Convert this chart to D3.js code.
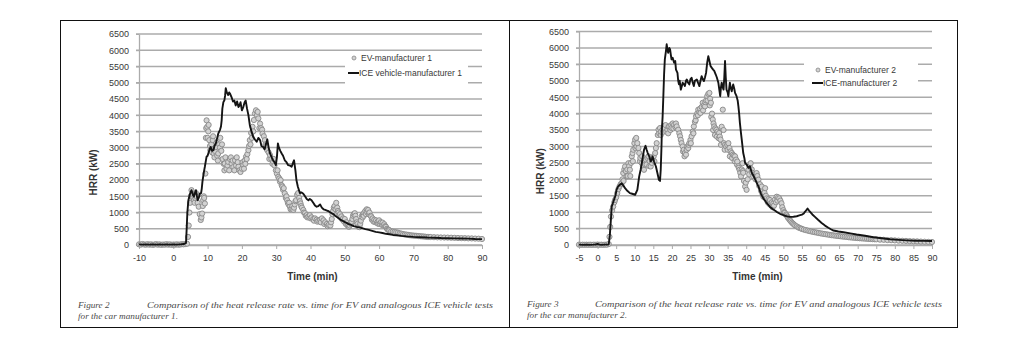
<!DOCTYPE html>
<html>
<head>
<meta charset="utf-8">
<script src="https://cdn.jsdelivr.net/npm/d3@7"></script>
<style>
  html, body { margin: 0; padding: 0; background: #fff; }
  svg { display: block; }
</style>
</head>
<body>
<svg id="fig" width="1018" height="349"></svg>
<script>
// Heat release rate (kW) against time (min) — [time, HRR] pairs.
const ev1 = [
  [-10,20],[-9.5,10],[-9,30],[-8.5,15],[-8,10],[-7.5,25],[-7,10],[-6.5,20],[-6,5],[-5.5,15],
  [-5,25],[-4.5,10],[-4,20],[-3.5,5],[-3,15],[-2.5,10],[-2,25],[-1.5,10],[-1,20],[-0.5,5],
  [0,15],[0.5,10],[1,20],[1.5,10],[2,15],[2.5,25],[3,20],[3.5,30],[4,40],[4.3,250],
  [4.5,600],[4.7,1000],[4.9,1300],[5.1,1500],[5.3,1690],[5.6,1550],[5.8,1450],[6.0,1380],[6.2,1300],[6.4,1450],
  [6.6,1600],[6.8,1490],[7.1,1300],[7.4,1180],[7.7,950],[8.0,770],[8.2,850],[8.4,970],[8.6,1200],[8.7,1380],
  [8.9,1500],[9.0,1450],[9.2,1280],[9.35,2200],[9.5,3300],[9.6,3600],[9.7,3840],[9.9,3640],[10.0,3300],[10.2,3500],
  [10.3,3700],[10.5,3230],[10.7,3050],[10.8,2920],[11.1,3100],[11.3,2850],[11.5,3230],[11.6,3350],[11.8,2820],[12.0,2700],
  [12.1,2900],[12.4,3020],[12.6,3150],[12.8,2750],[13.0,2600],[13.1,2820],[13.4,3100],[13.6,3000],[13.7,3300],[14.0,2900],
  [14.2,3100],[14.4,2650],[14.7,2500],[14.9,2300],[15.0,2510],[15.2,2700],[15.5,2350],[15.8,2450],[16.0,2560],[16.3,2300],
  [16.5,2650],[16.8,2700],[17.0,2510],[17.3,2600],[17.5,2400],[17.8,2300],[18.0,2610],[18.3,2450],[18.5,2700],[18.8,2550],
  [19.0,2410],[19.3,2300],[19.6,2250],[20.0,2350],[20.2,2550],[20.4,2460],[20.6,2350],[20.8,2600],[21.0,2500],[21.2,2720],
  [21.4,2650],[21.6,2800],[21.9,2920],[22.1,3050],[22.3,3230],[22.5,3100],[22.7,3450],[22.9,3300],[23.1,3640],[23.3,3500],
  [23.5,3850],[23.8,4050],[24.1,4150],[24.4,4000],[24.6,4100],[24.8,3900],[25.1,3600],[25.3,3740],[25.6,3600],[25.9,3550],
  [26.0,3430],[26.4,3350],[26.7,3230],[26.9,3100],[27.0,3050],[27.4,2920],[27.8,2850],[28.0,2650],[28.2,2770],[28.6,2650],
  [28.9,2500],[29.1,2560],[29.3,2650],[29.5,2450],[29.9,2300],[30.2,2200],[30.4,2300],[30.6,2100],[30.9,2050],[31.1,1950],
  [31.3,2000],[31.6,1840],[31.8,1800],[32.0,1700],[32.2,1750],[32.5,1590],[32.8,1450],[33.0,1500],[33.2,1380],[33.4,1300],
  [33.6,1250],[33.8,1300],[34.0,1180],[34.2,1100],[34.5,1120],[34.7,1200],[35.0,1080],[35.2,1150],[35.4,1250],[35.6,1350],
  [35.8,1380],[36.1,1550],[36.4,1600],[36.7,1450],[36.9,1350],[37.1,1280],[37.3,1200],[37.5,1150],[37.9,1080],[38.1,1000],
  [38.4,980],[38.6,900],[38.9,920],[39.1,850],[39.4,880],[39.8,920],[40.0,820],[40.3,850],[40.8,800],[41.0,750],
  [41.3,820],[41.8,780],[42.0,720],[42.3,750],[42.8,770],[43.0,700],[43.3,820],[43.8,760],[44.0,650],[44.3,700],
  [44.8,650],[45.0,580],[45.3,620],[45.8,600],[46.0,700],[46.2,800],[46.4,950],[46.6,1050],[46.8,1150],[47.0,1200],
  [47.3,1100],[47.5,1300],[47.8,1150],[48.0,1050],[48.2,1000],[48.4,900],[48.6,950],[49.0,880],[49.3,780],[49.5,820],
  [49.8,720],[50.0,800],[50.3,650],[50.5,700],[50.8,600],[51.0,620],[51.2,560],[51.4,600],[51.8,650],[52.0,720],
  [52.2,800],[52.4,900],[52.6,950],[52.9,980],[53.1,900],[53.3,800],[53.5,700],[53.7,650],[54.0,560],[54.3,550],
  [54.5,650],[54.7,750],[55.0,900],[55.2,850],[55.3,950],[55.5,900],[55.7,1000],[56.0,1050],[56.2,950],[56.4,1100],
  [56.6,1000],[56.8,1080],[57.0,950],[57.2,1000],[57.5,900],[57.7,880],[57.9,780],[58.1,820],[58.4,720],[58.6,780],
  [58.9,700],[59.1,760],[59.4,680],[59.6,720],[59.8,650],[60.0,760],[60.2,650],[60.5,700],[60.8,620],[61.0,690],
  [61.3,600],[61.5,640],[61.8,580],[62.0,560],[62.3,500],[62.5,480],[62.8,470],[63.0,450],[63.5,420],[64.0,410],
  [64.5,400],[65.0,390],[65.5,380],[66,360],[66.5,350],[67,335],[67.5,325],[68,320],[68.5,310],[69,300],
  [69.5,295],[70,290],[70.5,285],[71,282],[71.5,275],[72,270],[72.5,265],[73,262],[73.5,255],[74,250],
  [74.5,248],[75,246],[76,240],[77,236],[78,232],[79,230],[80,228],[81,224],[82,220],[83,216],
  [84,212],[85,210],[86,205],[87,203],[88,198],[89,195],[90,185]
];

const ice1 = [
  [-10,20],[-9,10],[-8,15],[-7,10],[-6,20],[-5,10],[-4,15],[-3,10],[-2,15],[-1,10],
  [0,15],[1,10],[2,20],[3,30],[3.7,60],[3.9,500],[4.1,1000],[4.4,1380],[4.8,1550],[5.3,1690],
  [5.7,1550],[6.0,1490],[6.3,1600],[6.6,1690],[6.9,1500],[7.1,1380],[7.4,1450],[7.8,1590],[8.1,1600],[8.3,1740],
  [8.5,1950],[8.7,2100],[9.0,2300],[9.2,2410],[9.5,2600],[9.7,2720],[10.0,2750],[10.2,2820],[10.6,2950],[10.9,3020],
  [11.3,2900],[11.7,2920],[12.0,3050],[12.4,3130],[12.8,3300],[13.1,3430],[13.4,3500],[13.6,3540],[13.9,3650],[14.1,3840],
  [14.3,4200],[14.6,4400],[14.9,4460],[15.1,4600],[15.3,4830],[15.6,4700],[16.0,4620],[16.3,4700],[16.6,4650],[17.0,4550],
  [17.4,4420],[17.8,4450],[18.2,4300],[18.6,4420],[19.0,4250],[19.3,4300],[19.6,4400],[20.0,4150],[20.4,4250],[20.8,4400],
  [21.1,4450],[21.5,4200],[21.9,4000],[22.3,3700],[22.8,3500],[23.3,3330],[23.8,3250],[24.3,3180],[24.8,3300],[25.3,3230],
  [25.7,3050],[26.2,3020],[26.6,2950],[27.0,3100],[27.4,3250],[27.8,3000],[28.2,2820],[28.7,2700],[29.1,2610],[29.5,2550],
  [29.9,2460],[30.2,2700],[30.5,3130],[30.8,3000],[31.2,2900],[31.6,2820],[32.0,2750],[32.5,2610],[33.0,2550],[33.5,2460],
  [34.0,2450],[34.5,2410],[35.0,2560],[35.2,2610],[35.6,2300],[35.9,2000],[36.3,1800],[36.9,1600],[37.4,1620],[37.9,1580],
  [38.4,1500],[38.9,1420],[39.4,1380],[39.8,1420],[40.3,1380],[40.8,1300],[41.3,1220],[41.8,1180],[42.3,1200],[42.8,1250],
  [43.3,1150],[43.8,1100],[44.3,1080],[44.8,1060],[45.3,1040],[45.8,1000],[46.5,960],[47.2,900],[48.0,840],[48.7,780],
  [49.4,740],[50.2,700],[51.0,650],[51.8,620],[52.6,580],[53.4,560],[54.2,545],[55.0,520],[56.0,490],[57.0,465],
  [58.0,435],[59.0,405],[60.0,390],[61.0,370],[62.0,345],[63.0,330],[64.0,310],[65.0,300],[66.5,280],[68,265],
  [70,250],[72,240],[74,230],[76,225],[78,215],[80,210],[82,205],[84,200],[86,195],[88,185],[90,180]
];

const ev2 = [
  [-5,10],[-4.5,5],[-4,10],[-3.5,5],[-3,10],[-2.5,5],[-2,10],[-1.5,5],[-1,10],[-0.5,5],
  [0,15],[0.5,5],[1,10],[1.5,5],[2,10],[2.5,10],[3.0,30],[3.2,250],[3.4,550],[3.6,865],
  [3.9,1050],[4.2,1170],[4.5,1300],[4.7,1370],[5.0,1450],[5.3,1580],[5.6,1700],[5.9,1780],[6.2,1850],[6.5,1880],
  [6.7,2000],[6.9,2190],[7.0,1950],[7.2,2300],[7.4,2390],[7.6,2250],[7.8,2090],[8.0,2300],[8.1,2100],[8.3,2490],
  [8.5,2400],[8.7,2290],[8.8,2100],[9.0,2500],[9.2,2700],[9.4,2800],[9.5,2550],[9.6,2900],[9.9,3100],[10.1,3210],
  [10.2,2950],[10.4,3260],[10.5,3000],[10.7,3100],[11.0,2950],[11.2,2800],[11.4,2550],[11.5,2650],[11.9,2490],[12.0,2700],
  [12.2,2400],[12.5,2290],[12.6,2550],[12.8,2450],[13.0,2600],[13.2,2450],[13.4,2650],[13.7,2700],[13.9,2400],[14.0,2550],
  [14.3,2390],[14.6,2500],[14.8,2600],[15.1,2700],[15.3,2550],[15.5,2800],[15.7,2950],[15.9,3100],[16.2,3350],[16.4,3510],
  [16.6,3400],[16.8,3560],[17.0,3350],[17.1,3450],[17.5,3510],[17.7,3450],[17.8,3600],[18.1,3560],[18.3,3650],[18.5,3450],
  [18.8,3510],[19.0,3400],[19.1,3600],[19.3,3610],[19.6,3500],[19.8,3650],[19.9,3560],[20.2,3700],[20.4,3550],[20.6,3660],
  [21.0,3580],[21.1,3700],[21.3,3610],[21.7,3510],[22.0,3400],[22.2,3310],[22.4,3200],[22.6,3100],[22.9,3000],[23.0,2850],
  [23.2,2900],[23.4,2700],[23.5,2800],[23.8,2750],[24.0,2900],[24.2,3000],[24.4,2950],[24.5,3050],[24.7,3100],[25.0,3200],
  [25.1,3100],[25.3,3310],[25.6,3450],[25.8,3400],[25.9,3610],[26.2,3750],[26.4,3800],[26.5,3920],[26.8,4000],[27.0,3950],
  [27.1,4120],[27.4,4050],[27.6,4150],[27.7,4020],[28.0,4200],[28.3,4330],[28.4,4100],[28.6,4250],[28.9,4220],[29.0,4350],
  [29.2,4400],[29.5,4530],[29.6,4400],[29.8,4600],[30.1,4630],[30.2,4250],[30.3,4450],[30.5,4330],[30.6,3900],[30.8,4000],
  [31.0,3820],[31.1,3500],[31.2,3700],[31.4,3610],[31.6,3350],[31.7,3550],[32.0,3510],[32.1,3300],[32.3,3450],[32.6,3250],
  [32.7,3410],[32.9,3300],[33.1,3210],[33.2,3050],[33.4,3600],[33.7,4120],[33.9,3500],[34.0,3100],[34.2,2900],[34.3,3050],
  [34.6,3000],[34.9,3050],[35.0,2900],[35.2,3100],[35.5,2950],[35.6,2700],[35.8,2850],[36.1,2800],[36.2,2650],[36.4,2750],
  [36.7,2720],[36.9,2550],[37.0,2700],[37.3,2600],[37.5,2450],[37.6,2540],[37.9,2400],[38.0,2350],[38.2,2290],[38.4,2200],
  [38.6,2090],[38.8,2300],[39.0,2490],[39.1,2250],[39.2,2200],[39.4,1950],[39.7,1780],[39.9,1900],[40.1,1680],[40.4,2000],
  [40.6,2290],[40.8,2150],[40.9,2400],[41.2,2490],[41.5,2300],[41.6,2200],[41.9,2090],[42.3,2150],[42.5,2000],[42.8,2190],
  [43.0,2100],[43.3,1990],[43.5,1800],[43.7,1850],[44.0,1650],[44.2,1780],[44.4,1550],[44.6,1470],[44.9,1600],[45.1,1730],
  [45.3,1500],[45.5,1420],[45.8,1300],[46.0,1400],[46.2,1250],[46.4,1370],[46.7,1200],[46.9,1300],[47.1,1150],[47.3,1270],
  [47.5,1200],[47.7,1380],[48.0,1300],[48.2,1470],[48.4,1350],[48.6,1450],[48.9,1420],[49.2,1350],[49.5,1270],[49.7,1150],
  [50.0,1060],[50.2,1000],[50.4,980],[50.7,930],[50.9,905],[51.1,860],[51.3,820],[51.6,780],[51.8,750],[52.0,720],
  [52.3,680],[52.6,650],[52.9,620],[53.2,590],[53.6,566],[54.0,540],[54.3,520],[54.7,505],[55.0,490],[55.5,470],
  [56,455],[56.5,440],[57,425],[57.5,412],[58,400],[58.5,388],[59,378],[59.5,366],[60,355],[60.5,345],
  [61,335],[61.5,326],[62,318],[62.5,308],[63,298],[63.5,292],[64,285],[64.5,277],[65,270],[65.5,264],
  [66,258],[66.5,252],[67,246],[67.5,238],[68,232],[68.5,227],[69,222],[69.5,216],[70,212],[70.5,206],
  [71,202],[71.5,198],[72,195],[72.5,190],[73,185],[73.5,182],[74,178],[74.5,175],[75,172],[76,163],
  [77,158],[78,150],[79,146],[80,140],[81,133],[82,128],[83,124],[84,118],[85,113],[86,110],
  [87,104],[88,100],[89,96],[90,92]
];

const ice2 = [
  [-5,10],[-4,5],[-3,10],[-2,5],[-1,10],[-0.5,15],[0,30],[0.5,10],[1,5],[2,10],
  [3,15],[3.3,300],[3.6,800],[3.8,1170],[4.2,1300],[4.5,1400],[4.8,1500],[5.1,1680],[5.5,1780],[5.9,1830],
  [6.5,1880],[7.0,1800],[7.4,1730],[8.0,1650],[8.7,1580],[9.3,1560],[10.1,1530],[10.7,1680],[11.2,2090],[11.6,2300],
  [11.9,2490],[12.2,2700],[12.5,2900],[12.9,3020],[13.2,2900],[13.5,2800],[13.9,2700],[14.3,2540],[14.6,2600],[14.8,2700],
  [15.2,2540],[15.7,2390],[16.1,2190],[16.5,1985],[16.8,1950],[17.0,2300],[17.2,3000],[17.3,3510],[17.5,3900],[17.7,4530],
  [17.9,5200],[18.1,5650],[18.4,5900],[18.6,6110],[18.8,5950],[19.0,5850],[19.3,6000],[19.5,5960],[19.7,5800],[19.9,5650],
  [20.2,5700],[20.6,5550],[20.9,5600],[21.1,5340],[21.5,5240],[21.7,5000],[21.9,4890],[22.1,5000],[22.4,4730],[22.7,4850],
  [22.9,4940],[23.2,4900],[23.5,4840],[23.8,5000],[24.0,5040],[24.3,4950],[24.7,4890],[25.0,5050],[25.3,5090],[25.6,4950],
  [25.9,4840],[26.2,5000],[26.7,5040],[27.0,4950],[27.4,4840],[27.7,5000],[28.0,5140],[28.3,5050],[28.6,4990],[28.9,5100],
  [29.2,5240],[29.5,5550],[29.8,5750],[30.1,5600],[30.4,5450],[30.7,5400],[31.1,5340],[31.4,5300],[31.8,5190],[32.1,5100],
  [32.5,4940],[33.0,4530],[33.2,4800],[33.4,4940],[33.7,4800],[33.9,4730],[34.1,5100],[34.3,5600],[34.5,5100],[34.7,4730],
  [35.0,4650],[35.2,4530],[35.4,4750],[35.6,4940],[35.8,4800],[36.1,4680],[36.3,4800],[36.5,4890],[36.8,4750],[37.0,4630],
  [37.4,4530],[37.7,4400],[37.9,4220],[38.1,4000],[38.3,3720],[38.6,3400],[38.8,3210],[39.0,3000],[39.2,2800],[39.5,2650],
  [39.7,2500],[40.1,2450],[40.6,2350],[41.0,2400],[41.5,2200],[42.0,2100],[42.4,2000],[42.8,1900],[43.3,1780],[44.0,1550],
  [44.6,1420],[45.5,1280],[46.4,1160],[47.3,1080],[48.2,1010],[49.1,950],[50.0,906],[51.0,870],[51.8,855],[52.7,860],
  [53.6,875],[54.3,900],[55.0,925],[55.5,960],[55.8,1010],[56.2,1060],[56.5,1110],[56.9,1050],[57.2,1010],[57.8,930],
  [58.5,855],[59.4,760],[60.3,670],[61.2,590],[62.1,525],[62.8,480],[63.5,440],[64.8,410],[66.2,390],[68,355],
  [69.7,320],[72,280],[74.2,237],[76.5,205],[78.7,175],[81,155],[83.2,140],[85.5,130],[87.7,125],[90,120]
];

const hrrTicks = [0, 500, 1000, 1500, 2000, 2500, 3000, 3500, 4000, 4500, 5000, 5500, 6000, 6500];
const timeTicks1 = [-10, 0, 10, 20, 30, 40, 50, 60, 70, 80, 90];
const timeTicks2 = [-5, 0, 5, 10, 15, 20, 25, 30, 35, 40, 45, 50, 55, 60, 65, 70, 75, 80, 85, 90];

const panels = [
  {
    frame: [60.5, 20.5, 509.5, 327.5],
    xDomain: [-10, 90], xRange: [139, 482], yRange: [245, 34],
    xTicks: timeTicks1, ev: ev1, ice: ice1,
    evName: "EV-manufacturer 1", iceName: "ICE vehicle-manufacturer 1",
    legend: { box: [345, 53, 468, 89], x: 348, y1: 58, y2: 73 },
    yTitleX: 93, xTitleY: 280,
    capX: 78, capTextX: 147, capW: 346, capY1: 308, capY2: 319,
    figLabel: "Figure 2",
    cap1: "Comparison of the heat release rate vs. time for EV and analogous ICE vehicle tests",
    cap2: "for the car manufacturer 1."
  },
  {
    frame: [509.5, 20.5, 957.5, 327.5],
    xDomain: [-5, 90], xRange: [579, 932], yRange: [245, 31.5],
    xTicks: timeTicks2, ev: ev2, ice: ice2,
    evName: "EV-manufacturer 2", iceName: "ICE-manufacturer 2",
    legend: { box: [804, 54, 918, 91], x: 812, y1: 70, y2: 83 },
    yTitleX: 540, xTitleY: 280,
    capX: 527, capTextX: 595, capW: 347, capY1: 307, capY2: 318,
    figLabel: "Figure 3",
    cap1: "Comparison of the heat release rate vs. time for EV and analogous ICE vehicle tests",
    cap2: "for the car manufacturer 2."
  }
];

const svg = d3.select("#fig");
svg.append("rect").attr("width", 1018).attr("height", 349).attr("fill", "#fff");

const tickFont = "'Liberation Sans', Arial, sans-serif";

function drawPanel(p) {
  const g = svg.append("g");
  const x = d3.scaleLinear().domain(p.xDomain).range(p.xRange);
  const y = d3.scaleLinear().domain([0, 6500]).range(p.yRange);

  // frame
  g.append("rect")
    .attr("x", p.frame[0]).attr("y", p.frame[1])
    .attr("width", p.frame[2] - p.frame[0]).attr("height", p.frame[3] - p.frame[1])
    .attr("fill", "none").attr("stroke", "#111").attr("stroke-width", 1);

  // horizontal gridlines
  g.append("g").selectAll("line").data(hrrTicks).join("line")
    .attr("x1", p.xRange[0] - 3).attr("x2", p.xRange[1])
    .attr("y1", d => y(d)).attr("y2", d => y(d))
    .attr("stroke", "#ababab").attr("stroke-width", 1.5);

  // y axis
  const ya = g.append("g").attr("transform", `translate(${p.xRange[0]},0)`)
    .call(d3.axisLeft(y).tickValues(hrrTicks).tickSize(3).tickSizeOuter(0).tickPadding(7)
      .tickFormat(d => String(d)));
  ya.select(".domain").attr("stroke", "#ababab").attr("stroke-width", 1.3);
  ya.selectAll(".tick line").attr("stroke", "#ababab");
  ya.selectAll("text").attr("font-family", tickFont).attr("font-size", 9).attr("fill", "#383838");

  // x axis
  const xa = g.append("g").attr("transform", `translate(0,${y(0)})`)
    .call(d3.axisBottom(x).tickValues(p.xTicks).tickSize(4).tickSizeOuter(0).tickPadding(6)
      .tickFormat(d => String(d)));
  xa.select(".domain").attr("stroke", "#ababab").attr("stroke-width", 1.5);
  xa.selectAll(".tick line").attr("stroke", "#ababab");
  xa.selectAll("text").attr("font-family", tickFont).attr("font-size", 9).attr("fill", "#383838");

  // axis titles
  g.append("text").attr("x", (p.xRange[0] + p.xRange[1]) / 2 + 2).attr("y", p.xTitleY)
    .attr("text-anchor", "middle").attr("font-family", tickFont).attr("font-weight", "bold")
    .attr("font-size", 10).attr("fill", "#333").text("Time (min)");
  g.append("text")
    .attr("transform", `translate(${p.yTitleX},${(y(0) + y(6500)) / 2 + 33}) rotate(-90)`)
    .attr("text-anchor", "middle").attr("dy", "0.35em").attr("font-family", tickFont)
    .attr("font-weight", "bold").attr("font-size", 10).attr("fill", "#333").text("HRR (kW)");

  // EV series: open grey markers
  g.append("g").selectAll("circle").data(p.ev).join("circle")
    .attr("cx", d => x(d[0])).attr("cy", d => y(d[1])).attr("r", 2.6)
    .attr("fill", "#d2d2d2").attr("stroke", "#888").attr("stroke-width", 0.9);

  // ICE series: black line
  g.append("path").datum(p.ice)
    .attr("d", d3.line().x(d => x(d[0])).y(d => y(d[1])))
    .attr("fill", "none").attr("stroke", "#141414").attr("stroke-width", 1.9)
    .attr("stroke-linejoin", "round");

  // legend
  const L = p.legend;
  g.append("rect").attr("x", L.box[0]).attr("y", L.box[1])
    .attr("width", L.box[2] - L.box[0]).attr("height", L.box[3] - L.box[1]).attr("fill", "#fff");
  g.append("circle").attr("cx", L.x + 6).attr("cy", L.y1).attr("r", 2)
    .attr("fill", "#d2d2d2").attr("stroke", "#888").attr("stroke-width", 0.8);
  g.append("line").attr("x1", L.x).attr("x2", L.x + 11).attr("y1", L.y2).attr("y2", L.y2)
    .attr("stroke", "#141414").attr("stroke-width", 2);
  g.append("text").attr("x", L.x + 13).attr("y", L.y1).attr("dy", "0.35em")
    .attr("font-family", tickFont).attr("font-size", 8.5).attr("fill", "#383838").text(p.evName);
  g.append("text").attr("x", L.x + 11).attr("y", L.y2).attr("dy", "0.35em")
    .attr("font-family", tickFont).attr("font-size", 8.5).attr("fill", "#383838").text(p.iceName);

  // caption
  const capFont = "'Liberation Serif', 'Times New Roman', serif";
  g.append("text").attr("x", p.capX).attr("y", p.capY1)
    .attr("font-family", capFont).attr("font-style", "italic").attr("font-size", 9.2)
    .attr("fill", "#4a4a4a").text(p.figLabel);
  g.append("text").attr("x", p.capTextX).attr("y", p.capY1)
    .attr("font-family", capFont).attr("font-style", "italic").attr("font-size", 9.2)
    .attr("fill", "#4a4a4a").attr("textLength", p.capW).attr("lengthAdjust", "spacingAndGlyphs")
    .text(p.cap1);
  g.append("text").attr("x", p.capX).attr("y", p.capY2)
    .attr("font-family", capFont).attr("font-style", "italic").attr("font-size", 9.2)
    .attr("fill", "#4a4a4a").text(p.cap2);
}

panels.forEach(drawPanel);
</script>
</body>
</html>
